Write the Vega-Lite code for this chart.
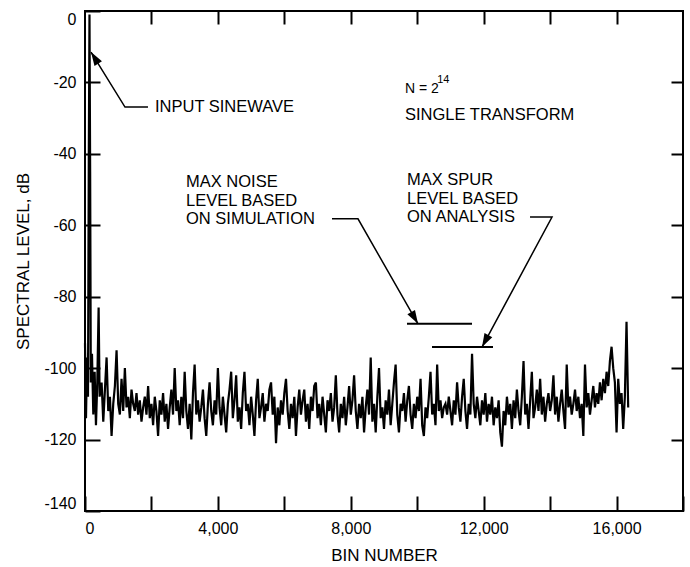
{
  "$schema": "https://vega.github.io/schema/vega-lite/v6.json",
  "autosize": "none",
  "width": 598,
  "height": 500,
  "padding": {"left": 85, "top": 11, "right": 7, "bottom": 56},
  "background": "white",
  "config": {
    "view": {"stroke": "black", "strokeWidth": 2},
    "font": "Liberation Sans",
    "axis": {"domain": false, "grid": false, "tickColor": "black", "tickWidth": 2, "labelColor": "black", "titleColor": "black", "labelFont": "Liberation Sans", "titleFont": "Liberation Sans", "titleFontWeight": "normal"}
  },
  "datasets": {
    "spectrum": [
      {"b":0,"v":-93},{"b":30,"v":-114},{"b":60,"v":-97},{"b":90,"v":-108},{"b":115,"v":-40},{"b":135,"v":-1},{"b":155,"v":-45},{"b":175,"v":-104},{"b":210,"v":-96},{"b":250,"v":-113},{"b":290,"v":-101},{"b":330,"v":-116},{"b":370,"v":-104},{"b":410,"v":-83},{"b":440,"v":-108},
      {"b":500,"v":-104},{"b":550,"v":-115},{"b":600,"v":-106},{"b":650,"v":-97},{"b":700,"v":-112},{"b":750,"v":-108},{"b":800,"v":-119},{"b":850,"v":-110},{"b":900,"v":-105},{"b":950,"v":-95},{"b":1000,"v":-110},{"b":1050,"v":-113},{"b":1100,"v":-103},{"b":1150,"v":-112},{"b":1200,"v":-100},{"b":1250,"v":-111},{"b":1300,"v":-108},{"b":1350,"v":-114},{"b":1400,"v":-106},{"b":1450,"v":-110},{"b":1500,"v":-112},{"b":1550,"v":-107},{"b":1600,"v":-113},{"b":1650,"v":-109},{"b":1700,"v":-115},{"b":1750,"v":-111},{"b":1800,"v":-108},{"b":1850,"v":-113},{"b":1900,"v":-105},{"b":1950,"v":-114},{"b":2000,"v":-110},
      {"b":2050,"v":-116},{"b":2100,"v":-108},{"b":2150,"v":-112},{"b":2200,"v":-119},{"b":2250,"v":-109},{"b":2300,"v":-113},{"b":2350,"v":-107},{"b":2400,"v":-115},{"b":2450,"v":-110},{"b":2500,"v":-117},{"b":2550,"v":-111},{"b":2600,"v":-106},{"b":2650,"v":-113},{"b":2700,"v":-100},{"b":2750,"v":-112},{"b":2800,"v":-109},{"b":2850,"v":-116},{"b":2900,"v":-108},{"b":2950,"v":-114},{"b":3000,"v":-101},{"b":3050,"v":-112},{"b":3100,"v":-117},{"b":3150,"v":-110},{"b":3200,"v":-120},{"b":3250,"v":-107},{"b":3300,"v":-99},{"b":3350,"v":-113},{"b":3400,"v":-109},{"b":3450,"v":-115},{"b":3500,"v":-111},{"b":3550,"v":-106},{"b":3600,"v":-114},{"b":3650,"v":-119},{"b":3700,"v":-110},{"b":3750,"v":-104},{"b":3800,"v":-112},{"b":3850,"v":-116},{"b":3900,"v":-109},{"b":3950,"v":-113},{"b":4000,"v":-100},
      {"b":4050,"v":-111},{"b":4100,"v":-116},{"b":4150,"v":-108},{"b":4200,"v":-113},{"b":4250,"v":-118},{"b":4300,"v":-110},{"b":4350,"v":-106},{"b":4400,"v":-101},{"b":4450,"v":-114},{"b":4500,"v":-109},{"b":4550,"v":-102},{"b":4600,"v":-115},{"b":4650,"v":-111},{"b":4700,"v":-117},{"b":4750,"v":-107},{"b":4800,"v":-101},{"b":4850,"v":-112},{"b":4900,"v":-110},{"b":4950,"v":-116},{"b":5000,"v":-108},{"b":5050,"v":-113},{"b":5100,"v":-119},{"b":5150,"v":-109},{"b":5200,"v":-103},{"b":5250,"v":-114},{"b":5300,"v":-111},{"b":5350,"v":-107},{"b":5400,"v":-115},{"b":5450,"v":-110},{"b":5500,"v":-112},{"b":5550,"v":-106},{"b":5600,"v":-104},{"b":5650,"v":-113},{"b":5700,"v":-108},{"b":5750,"v":-121},{"b":5800,"v":-111},{"b":5850,"v":-116},{"b":5900,"v":-109},{"b":5950,"v":-113},{"b":6000,"v":-107},
      {"b":6050,"v":-103},{"b":6100,"v":-112},{"b":6150,"v":-117},{"b":6200,"v":-110},{"b":6250,"v":-114},{"b":6300,"v":-108},{"b":6350,"v":-119},{"b":6400,"v":-111},{"b":6450,"v":-106},{"b":6500,"v":-113},{"b":6550,"v":-109},{"b":6600,"v":-106},{"b":6650,"v":-115},{"b":6700,"v":-110},{"b":6750,"v":-117},{"b":6800,"v":-108},{"b":6850,"v":-112},{"b":6900,"v":-105},{"b":6950,"v":-104},{"b":7000,"v":-114},{"b":7050,"v":-110},{"b":7100,"v":-116},{"b":7150,"v":-108},{"b":7200,"v":-113},{"b":7250,"v":-118},{"b":7300,"v":-109},{"b":7350,"v":-112},{"b":7400,"v":-107},{"b":7450,"v":-115},{"b":7500,"v":-111},{"b":7550,"v":-102},{"b":7600,"v":-113},{"b":7650,"v":-118},{"b":7700,"v":-110},{"b":7750,"v":-114},{"b":7800,"v":-108},{"b":7850,"v":-116},{"b":7900,"v":-111},{"b":7950,"v":-105},{"b":8000,"v":-113},
      {"b":8050,"v":-109},{"b":8100,"v":-102},{"b":8150,"v":-112},{"b":8200,"v":-117},{"b":8250,"v":-110},{"b":8300,"v":-114},{"b":8350,"v":-108},{"b":8400,"v":-118},{"b":8450,"v":-111},{"b":8500,"v":-106},{"b":8550,"v":-113},{"b":8600,"v":-97},{"b":8650,"v":-115},{"b":8700,"v":-110},{"b":8750,"v":-118},{"b":8800,"v":-108},{"b":8850,"v":-100},{"b":8900,"v":-114},{"b":8950,"v":-111},{"b":9000,"v":-117},{"b":9050,"v":-109},{"b":9100,"v":-113},{"b":9150,"v":-106},{"b":9200,"v":-116},{"b":9250,"v":-110},{"b":9300,"v":-104},{"b":9350,"v":-99},{"b":9400,"v":-113},{"b":9450,"v":-118},{"b":9500,"v":-110},{"b":9550,"v":-112},{"b":9600,"v":-107},{"b":9650,"v":-115},{"b":9700,"v":-109},{"b":9750,"v":-105},{"b":9800,"v":-113},{"b":9850,"v":-117},{"b":9900,"v":-110},{"b":9950,"v":-114},{"b":10000,"v":-108},
      {"b":10050,"v":-112},{"b":10100,"v":-103},{"b":10150,"v":-116},{"b":10200,"v":-119},{"b":10250,"v":-111},{"b":10300,"v":-114},{"b":10350,"v":-108},{"b":10400,"v":-101},{"b":10450,"v":-113},{"b":10500,"v":-110},{"b":10550,"v":-116},{"b":10600,"v":-99},{"b":10650,"v":-112},{"b":10700,"v":-109},{"b":10750,"v":-114},{"b":10800,"v":-111},{"b":10850,"v":-110},{"b":10900,"v":-113},{"b":10950,"v":-108},{"b":11000,"v":-112},{"b":11050,"v":-116},{"b":11100,"v":-109},{"b":11150,"v":-113},{"b":11200,"v":-104},{"b":11250,"v":-111},{"b":11300,"v":-115},{"b":11350,"v":-108},{"b":11400,"v":-103},{"b":11450,"v":-112},{"b":11500,"v":-117},{"b":11550,"v":-110},{"b":11600,"v":-113},{"b":11650,"v":-96},{"b":11700,"v":-110},{"b":11750,"v":-114},{"b":11800,"v":-108},{"b":11850,"v":-112},{"b":11900,"v":-116},{"b":11950,"v":-109},{"b":12000,"v":-113},
      {"b":12050,"v":-107},{"b":12100,"v":-115},{"b":12150,"v":-110},{"b":12200,"v":-113},{"b":12250,"v":-108},{"b":12300,"v":-116},{"b":12350,"v":-111},{"b":12400,"v":-114},{"b":12450,"v":-109},{"b":12500,"v":-118},{"b":12550,"v":-122},{"b":12600,"v":-112},{"b":12650,"v":-116},{"b":12700,"v":-108},{"b":12750,"v":-113},{"b":12800,"v":-110},{"b":12850,"v":-117},{"b":12900,"v":-109},{"b":12950,"v":-114},{"b":13000,"v":-106},{"b":13050,"v":-112},{"b":13100,"v":-116},{"b":13150,"v":-108},{"b":13200,"v":-98},{"b":13250,"v":-113},{"b":13300,"v":-110},{"b":13350,"v":-117},{"b":13400,"v":-109},{"b":13450,"v":-101},{"b":13500,"v":-114},{"b":13550,"v":-111},{"b":13600,"v":-106},{"b":13650,"v":-112},{"b":13700,"v":-103},{"b":13750,"v":-113},{"b":13800,"v":-108},{"b":13850,"v":-115},{"b":13900,"v":-110},{"b":13950,"v":-107},{"b":14000,"v":-112},
      {"b":14050,"v":-109},{"b":14100,"v":-102},{"b":14150,"v":-113},{"b":14200,"v":-108},{"b":14250,"v":-115},{"b":14300,"v":-110},{"b":14350,"v":-106},{"b":14400,"v":-112},{"b":14450,"v":-117},{"b":14500,"v":-99},{"b":14550,"v":-111},{"b":14600,"v":-108},{"b":14650,"v":-113},{"b":14700,"v":-110},{"b":14750,"v":-106},{"b":14800,"v":-112},{"b":14850,"v":-108},{"b":14900,"v":-114},{"b":14950,"v":-110},{"b":15000,"v":-119},{"b":15050,"v":-99},{"b":15100,"v":-111},{"b":15150,"v":-107},{"b":15200,"v":-113},{"b":15250,"v":-109},{"b":15300,"v":-105},{"b":15350,"v":-111},{"b":15400,"v":-107},{"b":15450,"v":-110},{"b":15500,"v":-104},{"b":15550,"v":-109},{"b":15600,"v":-103},{"b":15650,"v":-107},{"b":15700,"v":-101},{"b":15750,"v":-105},{"b":15800,"v":-98},{"b":15850,"v":-94},{"b":15900,"v":-100},{"b":15950,"v":-104},{"b":16000,"v":-118},{"b":16050,"v":-103},{"b":16100,"v":-110},{"b":16150,"v":-107},{"b":16200,"v":-117},{"b":16250,"v":-108},{"b":16300,"v":-87},{"b":16350,"v":-111}
    ],
    "levels": [
      {"name": "noise", "b1": 9692, "b2": 11649, "v": -87.6},
      {"name": "spur", "b1": 10445, "b2": 12281, "v": -94.1}
    ],
    "leaders": [
      {"id": "a", "o": 1, "b": 1896, "v": -26.9},
      {"id": "a", "o": 2, "b": 1204, "v": -26.9},
      {"id": "a", "o": 3, "b": 181, "v": -11.5},
      {"id": "n", "o": 1, "b": 7435, "v": -58.2},
      {"id": "n", "o": 2, "b": 8217, "v": -58.2},
      {"id": "n", "o": 3, "b": 10023, "v": -87.6},
      {"id": "s", "o": 1, "b": 13395, "v": -57.7},
      {"id": "s", "o": 2, "b": 14057, "v": -57.7},
      {"id": "s", "o": 3, "b": 11950, "v": -94.1}
    ],
    "tips": [
      {"id": "a", "b": 181, "v": -11.5},
      {"id": "n", "b": 10023, "v": -87.6},
      {"id": "s", "b": 11950, "v": -94.1}
    ],
    "notes": [
      {"t": "INPUT SINEWAVE", "b": 2107, "v": -26.9},
      {"t": "SINGLE TRANSFORM", "b": 9632, "v": -29.0},
      {"t": "MAX NOISE", "b": 3040, "v": -47.9},
      {"t": "LEVEL BASED", "b": 3040, "v": -53.2},
      {"t": "ON SIMULATION", "b": 3040, "v": -58.2},
      {"t": "MAX SPUR", "b": 9692, "v": -47.3},
      {"t": "LEVEL BASED", "b": 9692, "v": -52.6},
      {"t": "ON ANALYSIS", "b": 9692, "v": -57.7}
    ],
    "nlabel": [{"t": "N = 2", "b": 9632, "v": -21.8}],
    "sup": [{"t": "14", "b": 10600, "v": -19.2}]
  },
  "resolve": {"axis": {"x": "independent", "y": "independent"}},
  "layer": [
    {
      "data": {"name": "spectrum"},
      "mark": {"type": "line", "color": "black", "strokeWidth": 2.2, "strokeJoin": "miter"},
      "encoding": {
        "x": {"field": "b", "type": "quantitative", "scale": {"domain": [0, 18000], "nice": false, "zero": false},
              "axis": {"orient": "bottom", "title": "BIN NUMBER", "values": [0,2000,4000,6000,8000,10000,12000,14000,16000,18000], "tickSize": -15, "labelPadding": 24, "labelFontSize": 16, "labelFlush": true, "labelExpr": "datum.value % 4000 === 0 && datum.value < 18000 ? format(datum.value, ',') : ''", "titleFontSize": 17, "titleY": 44, "titleBaseline": "middle"}},
        "y": {"field": "v", "type": "quantitative", "scale": {"domain": [-140, 0], "nice": false, "zero": false},
              "axis": {"orient": "left", "title": "SPECTRAL LEVEL, dB", "values": [-140,-120,-100,-80,-60,-40,-20,0], "tickSize": -15, "labelPadding": 24, "labelFontSize": 16, "labelFlush": true, "labelExpr": "'' + datum.value", "titleFontSize": 17, "titleX": -62, "titleY": 250, "titleAngle": -90, "titleAlign": "center", "titleBaseline": "middle"}}
      }
    },
    {
      "data": {"name": "levels"},
      "mark": {"type": "rule", "color": "black", "strokeWidth": 2},
      "encoding": {
        "x": {"field": "b1", "type": "quantitative",
              "axis": {"orient": "top", "title": null, "labels": false, "values": [2000,4000,6000,8000,10000,12000,14000,16000], "tickSize": -13}},
        "x2": {"field": "b2"},
        "y": {"field": "v", "type": "quantitative",
              "axis": {"orient": "right", "title": null, "labels": false, "values": [-120,-100,-80,-60,-40,-20], "tickSize": -12}}
      }
    },
    {
      "data": {"name": "leaders"},
      "mark": {"type": "line", "color": "black", "strokeWidth": 1.5},
      "encoding": {
        "x": {"field": "b", "type": "quantitative", "axis": null},
        "y": {"field": "v", "type": "quantitative", "axis": null},
        "detail": {"field": "id"},
        "order": {"field": "o"}
      }
    },
    {
      "data": {"name": "tips"},
      "transform": [{"filter": "datum.id === 'a'"}],
      "mark": {"type": "point", "shape": "M0,0L-0.55,1.7L0.55,1.7Z", "filled": true, "color": "black", "size": 256, "angle": 328, "opacity": 1},
      "encoding": {
        "x": {"field": "b", "type": "quantitative", "axis": null},
        "y": {"field": "v", "type": "quantitative", "axis": null}
      }
    },
    {
      "data": {"name": "tips"},
      "transform": [{"filter": "datum.id === 'n'"}],
      "mark": {"type": "point", "shape": "M0,0L-0.55,1.7L0.55,1.7Z", "filled": true, "color": "black", "size": 256, "angle": 150, "opacity": 1},
      "encoding": {
        "x": {"field": "b", "type": "quantitative", "axis": null},
        "y": {"field": "v", "type": "quantitative", "axis": null}
      }
    },
    {
      "data": {"name": "tips"},
      "transform": [{"filter": "datum.id === 's'"}],
      "mark": {"type": "point", "shape": "M0,0L-0.55,1.7L0.55,1.7Z", "filled": true, "color": "black", "size": 256, "angle": 208, "opacity": 1},
      "encoding": {
        "x": {"field": "b", "type": "quantitative", "axis": null},
        "y": {"field": "v", "type": "quantitative", "axis": null}
      }
    },
    {
      "data": {"name": "notes"},
      "mark": {"type": "text", "align": "left", "baseline": "middle", "fontSize": 16.5, "color": "black", "font": "Liberation Sans"},
      "encoding": {
        "x": {"field": "b", "type": "quantitative", "axis": null},
        "y": {"field": "v", "type": "quantitative", "axis": null},
        "text": {"field": "t"}
      }
    },
    {
      "data": {"name": "nlabel"},
      "mark": {"type": "text", "align": "left", "baseline": "middle", "fontSize": 14, "color": "black", "font": "Liberation Sans"},
      "encoding": {
        "x": {"field": "b", "type": "quantitative", "axis": null},
        "y": {"field": "v", "type": "quantitative", "axis": null},
        "text": {"field": "t"}
      }
    },
    {
      "data": {"name": "sup"},
      "mark": {"type": "text", "align": "left", "baseline": "middle", "fontSize": 11, "color": "black", "font": "Liberation Sans"},
      "encoding": {
        "x": {"field": "b", "type": "quantitative", "axis": null},
        "y": {"field": "v", "type": "quantitative", "axis": null},
        "text": {"field": "t"}
      }
    }
  ]
}
